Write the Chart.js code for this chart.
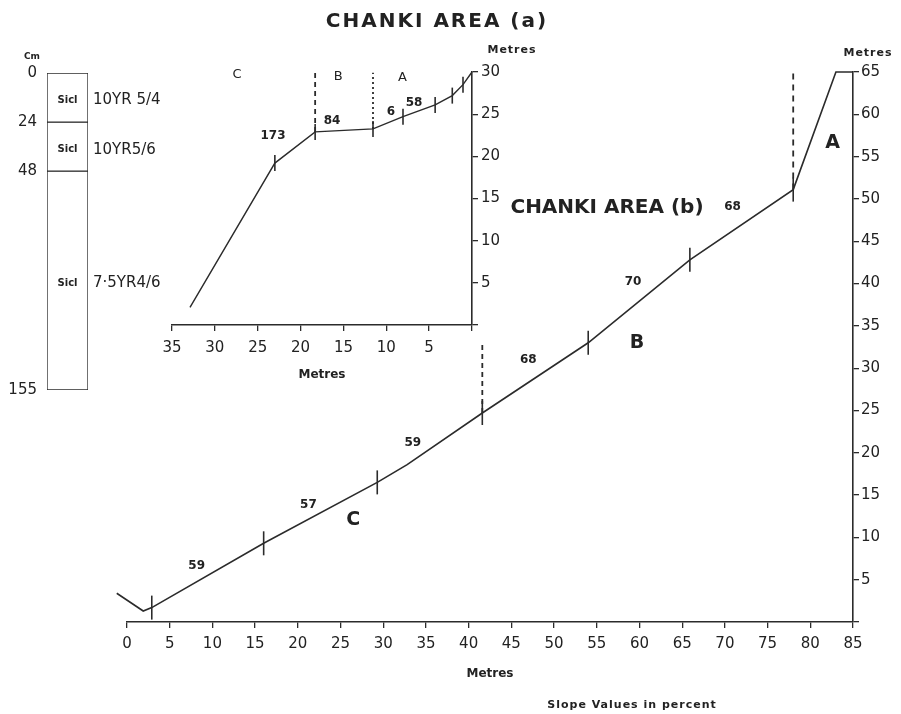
<!DOCTYPE html>
<html>
<head>
<meta charset="utf-8">
<title>Chanki Area slope profiles</title>
<script src="https://cdn.jsdelivr.net/npm/chart.js@4/dist/chart.umd.min.js"></script>
<style>
  html, body { margin: 0; padding: 0; background: #fff; }
  #sheet { position: relative; width: 901px; height: 714px; overflow: hidden; background: #fff; }
  #sheet canvas { position: absolute; left: 0; top: 0; }
</style>
</head>
<body>
<div id="sheet">
  <canvas id="soilProfile" width="901" height="714"></canvas>
  <canvas id="areaA" width="901" height="714"></canvas>
  <canvas id="areaB" width="901" height="714"></canvas>
</div>
<script>
// ---------- Chanki Area (b): main traverse (distance vs height, metres) ----------
const distB   = [-1.2, 1.9, 2.9, 16.0, 29.3, 32.8, 41.6, 54.0, 65.9, 78.0, 83.0, 85.0];
const heightB = [3.4, 1.3, 1.7, 9.3, 16.5, 18.6, 24.7, 33.0, 42.8, 51.1, 65.0, 65.0];
const breaksB = [2.9, 16.0, 29.3, 41.6, 54.0, 65.9, 78.0];      // slope break stations
const slopesB = [59, 57, 59, 68, 70, 68];                       // % slope between breaks
const unitEdgesB = [41.6, 78.0];                                // C|B and B|A boundaries
const unitEdgeTopsB = [33.0, 64.9];
const unitNamesB = ['C', 'B', 'A'];
const unitSpotsB = [[26.5, 12.0], [59.7, 33.0], [82.6, 56.6]];

// ---------- Chanki Area (a): inset traverse (distance measured back from the crest) ----------
const distA   = [32.9, 23.0, 18.3, 11.55, 8.05, 4.3, 2.3, 1.05, 0];
const heightA = [2.1, 19.2, 22.9, 23.25, 24.7, 26.1, 27.2, 28.5, 30.0];
const breaksA = [23.0, 18.3, 11.55, 8.05, 4.3, 2.3, 1.05];
const slopesA = [173, 84, 6, 58];
const unitEdgesA = [18.3, 11.55];
const unitEdgeTopsA = [29.9, 29.9];
const unitNamesA = ['C', 'B', 'A'];
const unitSpotsA = [[27.4, 29.7], [15.6, 29.4], [8.1, 29.3]];

// ---------- Soil profile column (depth in cm) ----------
const horizonDepths   = [0, 24, 48, 155];
const horizonTextures = ['Sicl', 'Sicl', 'Sicl'];
const horizonColours  = ['10YR 5/4', '10YR5/6', '7·5YR4/6'];

// ---------- shared look ----------
const INK = '#222';
const LINE = '#2b2b2b';
const FAMILY = '"DejaVu Sans", "Liberation Sans", sans-serif';
const F = {
  tick:  { family: FAMILY, size: 15 },
  axisT: { family: FAMILY, size: 12, weight: 'bold' },
  title: 'bold 20px ' + FAMILY,
  unitBig: 'bold 19px ' + FAMILY,
  unitSmall: '13px ' + FAMILY,
  slope: 'bold 12px ' + FAMILY,
  small: 'bold 11px ' + FAMILY,
  soil: '15px ' + FAMILY,
  texture: 'bold 10px ' + FAMILY
};

// Pixel shifts of the slope figures from their segment midpoints
const slopeShiftB = [[-11, -10], [-12, -8], [-17, -5], [-7, -18], [-6, -19], [-9, -18]];
const slopeShiftA = [[-22, -12], [-12, -10], [3, -11], [-5, -8]];

// Keeps an axis box at a fixed size so the plot area lands where the layout padding puts it
function fixedBox(size) {
  return function (scale) {
    if (scale.isHorizontal()) scale.height = size; else scale.width = size;
    scale.paddingLeft = scale.paddingRight = scale.paddingTop = scale.paddingBottom = 0;
  };
}

// Draws free text anchored to data coordinates (plus an optional pixel shift)
function textLayer(id, items) {
  return {
    id: id,
    afterDatasetsDraw(chart) {
      const ctx = chart.ctx, sx = chart.scales.x, sy = chart.scales.y;
      ctx.save();
      items.forEach(function (n) {
        ctx.font = n.font;
        ctx.fillStyle = n.color || INK;
        ctx.textAlign = n.align || 'center';
        ctx.textBaseline = 'middle';
        if ('letterSpacing' in ctx) ctx.letterSpacing = n.spacing || '0px';
        ctx.fillText(n.text, sx.getPixelForValue(n.x) + (n.dx || 0), sy.getPixelForValue(n.y) + (n.dy || 0));
      });
      ctx.restore();
    }
  };
}

function slopeNotes(xs, ys, breaks, slopes, shifts) {
  const out = [];
  for (let i = 0; i < slopes.length; i++) {
    const a = xs.indexOf(breaks[i]), b = xs.indexOf(breaks[i + 1]);
    out.push({
      text: String(slopes[i]), font: F.slope,
      x: (xs[a] + xs[b]) / 2, y: (ys[a] + ys[b]) / 2,
      dx: shifts[i][0], dy: shifts[i][1]
    });
  }
  return out;
}

function profileSet(xs, ys, breaks, tickR, width) {
  return {
    data: xs.map(function (x, i) { return { x: x, y: ys[i] }; }),
    borderColor: LINE, borderWidth: width, tension: 0, clip: false,
    pointStyle: 'line', rotation: 90,
    pointRadius: function (c) { return breaks.indexOf(xs[c.dataIndex]) >= 0 ? tickR : 0; },
    pointBorderColor: LINE, pointBorderWidth: 1.6, pointBackgroundColor: LINE
  };
}

function edgeSets(edges, xs, ys, tops, dashes) {
  return edges.map(function (e, i) {
    return {
      data: [{ x: e, y: ys[xs.indexOf(e)] }, { x: e, y: tops[i] }],
      borderColor: LINE, borderWidth: 1.8, borderDash: dashes[i],
      pointRadius: 0, clip: false
    };
  });
}

const axisLook = {
  grid: { display: true, drawOnChartArea: false, drawTicks: true, tickLength: 6, color: LINE, lineWidth: 1.3 },
  border: { display: true, color: LINE, width: 1.6 }
};

// ---------- Chanki Area (b) ----------
new Chart(document.getElementById('areaB'), {
  type: 'line',
  data: {
    datasets: [profileSet(distB, heightB, breaksB, 12, 1.6)]
      .concat(edgeSets(unitEdgesB, distB, heightB, unitEdgeTopsB, [[5, 4], [6, 5]]))
  },
  options: {
    responsive: false, animation: false, events: [],
    layout: { padding: { left: 127, top: 72, right: 8, bottom: 33 } },
    plugins: { legend: { display: false }, tooltip: { enabled: false } },
    scales: {
      x: Object.assign({
        type: 'linear', position: 'bottom', min: 0, max: 85,
        ticks: { stepSize: 5, autoSkip: false, maxRotation: 0, padding: 7, color: INK, font: F.tick },
        title: { display: true, text: 'Metres', color: INK, font: F.axisT, padding: { top: 0, bottom: 0 } },
        afterFit: fixedBox(59)
      }, axisLook),
      y: Object.assign({
        type: 'linear', position: 'right', min: 0, max: 65,
        ticks: { stepSize: 5, padding: 2, color: INK, font: F.tick,
                 callback: function (v) { return v === 0 ? '' : v; } },
        afterFit: fixedBox(40)
      }, axisLook)
    }
  },
  plugins: [textLayer('notesB', slopeNotes(distB, heightB, breaksB, slopesB, slopeShiftB).concat(
    unitNamesB.map(function (t, i) { return { text: t, font: F.unitBig, x: unitSpotsB[i][0], y: unitSpotsB[i][1] }; }),
    [
      { text: 'CHANKI AREA (b)', font: F.title, x: 56.2, y: 48.9 },
      { text: 'Metres', font: F.small, x: 85, y: 65, dx: 15, dy: -19, spacing: '1px' },
      { text: 'Slope Values in percent', font: F.small, x: 85, y: 0, dx: -221, dy: 83, spacing: '1px' }
    ]
  ))]
});

// ---------- Chanki Area (a) ----------
new Chart(document.getElementById('areaA'), {
  type: 'line',
  data: {
    datasets: [profileSet(distA, heightA, breaksA, 8, 1.4)]
      .concat(edgeSets(unitEdgesA, distA, heightA, unitEdgeTopsA, [[5, 4], [2, 3]]))
  },
  options: {
    responsive: false, animation: false, events: [],
    layout: { padding: { left: 172, top: 72, right: 389, bottom: 332 } },
    plugins: { legend: { display: false }, tooltip: { enabled: false } },
    scales: {
      x: Object.assign({
        type: 'linear', position: 'bottom', min: 0, max: 35, reverse: true,
        ticks: { stepSize: 5, autoSkip: false, maxRotation: 0, padding: 8, color: INK, font: F.tick,
                 callback: function (v) { return v === 0 ? '' : v; } },
        title: { display: true, text: 'Metres', color: INK, font: F.axisT, padding: { top: 0, bottom: 0 } },
        afterFit: fixedBox(57)
      }, axisLook),
      y: Object.assign({
        type: 'linear', position: 'right', min: 0, max: 30,
        ticks: { stepSize: 5, padding: 3, color: INK, font: F.tick,
                 callback: function (v) { return v === 0 ? '' : v; } },
        afterFit: fixedBox(40)
      }, axisLook)
    }
  },
  plugins: [textLayer('notesA', slopeNotes(distA, heightA, breaksA, slopesA, slopeShiftA).concat(
    unitNamesA.map(function (t, i) { return { text: t, font: F.unitSmall, x: unitSpotsA[i][0], y: unitSpotsA[i][1] }; }),
    [
      { text: 'CHANKI AREA (a)', font: F.title, x: 0, y: 30, dx: -35, dy: -50, spacing: '2px' },
      { text: 'Metres', font: F.small, x: 0, y: 30, dx: 40, dy: -22, spacing: '1px' }
    ]
  ))]
});

// ---------- Soil profile column ----------
const soilLabels = {
  id: 'soilLabels',
  afterDatasetsDraw(chart) {
    const ctx = chart.ctx, sy = chart.scales.y, area = chart.chartArea;
    ctx.save();
    ctx.fillStyle = INK;
    ctx.textBaseline = 'middle';
    for (let i = 0; i < horizonTextures.length; i++) {
      const mid = sy.getPixelForValue((horizonDepths[i] + horizonDepths[i + 1]) / 2) + 3;
      ctx.font = F.texture; ctx.textAlign = 'center';
      ctx.fillText(horizonTextures[i], (area.left + area.right) / 2, mid);
      ctx.font = F.soil; ctx.textAlign = 'left';
      ctx.fillText(horizonColours[i], area.right + 5, mid);
    }
    ctx.font = 'bold 9px ' + FAMILY; ctx.textAlign = 'center';
    ctx.fillText('Cm', 32, sy.getPixelForValue(0) - 16);
    ctx.restore();
  }
};

new Chart(document.getElementById('soilProfile'), {
  type: 'bar',
  data: {
    labels: [''],
    datasets: horizonTextures.map(function (t, i) {
      return {
        data: [[horizonDepths[i], horizonDepths[i + 1]]],
        backgroundColor: '#fff', borderColor: LINE, borderWidth: 1, borderSkipped: false,
        barPercentage: 1, categoryPercentage: 1, grouped: false
      };
    })
  },
  options: {
    responsive: false, animation: false, events: [],
    layout: { padding: { left: 7, top: 73, right: 813, bottom: 324 } },
    plugins: { legend: { display: false }, tooltip: { enabled: false } },
    scales: {
      x: { type: 'category', display: false },
      y: {
        type: 'linear', position: 'left', min: 0, max: 155, reverse: true,
        grid: { display: false, drawTicks: false }, border: { display: false },
        ticks: { padding: 10, color: INK, font: F.tick },
        afterBuildTicks: function (scale) { scale.ticks = horizonDepths.map(function (v) { return { value: v }; }); },
        afterFit: fixedBox(40)
      }
    }
  },
  plugins: [soilLabels]
});
</script>
</body>
</html>
